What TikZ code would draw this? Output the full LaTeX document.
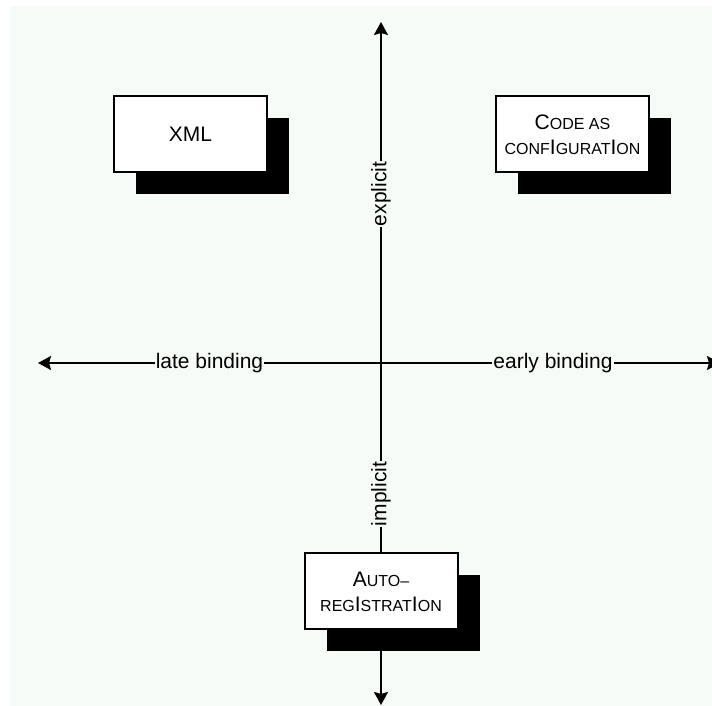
\documentclass[tikz,border=0pt]{standalone}
\usepackage{fontspec}
\setmainfont{Liberation Sans}
\usepackage{tikz}
\usetikzlibrary{arrows.meta,shadows}
\usepackage{xcolor}
\definecolor{paper}{RGB}{246,251,248}
\newcommand{\lowcap}[1]{{\fontsize{8}{12.5}\selectfont #1}}

\begin{document}
\begin{tikzpicture}[
    x=0.5pt, y=0.5pt,
    box/.style={rectangle, draw, line width=1pt, fill=white, minimum width=76.5pt, minimum height=38pt, align=center,
        font=\fontsize{10.5}{12.5}\selectfont,
        drop shadow={shadow xshift=11pt, shadow yshift=-11pt, fill=black, opacity=1}},
    axis/.style={{Stealth[length=6.5pt,width=7pt,inset=1pt]}-{Stealth[length=6.5pt,width=7pt,inset=1pt]}, line width=1pt},
    lbl/.style={fill=paper, inner sep=0.5pt, font=\fontsize{10.5}{12.5}\selectfont}
]
    \useasboundingbox (0,0) rectangle (712,706);
    \fill[paper] (10,0) rectangle (712,700);

    \coordinate (west) at (38,343);
    \coordinate (east) at (720,343);
    \coordinate (north) at (381,684);
    \coordinate (south) at (381,1);

    \draw[axis] (west) -- (east);
    \draw[axis] (south) -- (north);

    \node[lbl] (late) at (209.5,343) {late binding};
    \node[lbl] (early) at (553,343) {early binding};
    \node[lbl, rotate=90] (explicit) at (381,512) {explicit};
    \node[lbl, rotate=90] (implicit) at (381,212) {implicit};

    \node[box] (xml) at (190.5,572) {XML};
    \node[box] (code) at (572.5,571.5) {C\lowcap{ODE AS}\\\lowcap{CONF}I\lowcap{GURAT}I\lowcap{ON}};
    \node[box] (auto) at (381,114.5) {A\lowcap{UTO\textendash}\\\lowcap{REG}I\lowcap{STRAT}I\lowcap{ON}};
\end{tikzpicture}
\end{document}
